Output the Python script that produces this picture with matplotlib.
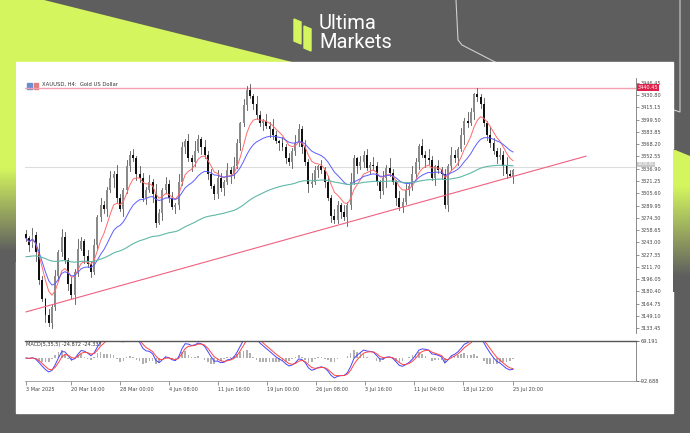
import matplotlib
matplotlib.use("Agg")
import matplotlib.pyplot as plt
import numpy as np
import pandas as pd
from matplotlib.patches import Polygon, Rectangle
from matplotlib.colors import to_rgb

closes = [3248,3240,3252,3230,3195,3170,3150,3140,3160,3200,3230,3250,3220,3190,3175,3205,3235,3245,3225,3215,3205,
          3240,3275,3290,3285,3310,3325,3330,3300,3285,3310,3340,3355,3350,3330,3325,3300,3310,3320,3305,3268,3280,
          3310,3318,3300,3288,3290,3320,3365,3372,3350,3345,3360,3375,3365,3355,3330,3315,3305,3325,3312,3320,3335,
          3330,3340,3370,3395,3418,3438,3430,3420,3405,3395,3398,3392,3388,3380,3372,3370,3365,3350,3345,3360,3370,
          3388,3365,3345,3318,3320,3335,3340,3335,3320,3300,3276,3272,3290,3282,3275,3290,3320,3350,3340,3345,3355,
          3338,3342,3340,3320,3308,3325,3338,3332,3320,3300,3288,3295,3310,3315,3330,3345,3366,3355,3350,3348,3325,
          3340,3335,3330,3290,3340,3355,3350,3362,3380,3398,3395,3410,3432,3428,3420,3395,3380,3370,3360,3352,3355,
          3340,3330,3328,3335]
wick_up = [6, 3, 9, 4, 12, 5, 2, 8, 4, 7, 3, 10]
wick_dn = [4, 8, 3, 11, 5, 2, 9, 4, 6, 3, 7, 5]
price_ticks = [3446.45,3430.80,3415.15,3399.50,3383.85,3368.20,3352.55,3336.90,3321.25,3305.60,3289.95,
               3274.30,3258.65,3243.00,3227.35,3211.70,3196.05,3180.40,3164.75,3149.10,3133.45]
resistance = 3440.45
current = 3338.86
trend_start = 3154
trend_end = 3353
ma_slow_start = 3224
date_labels = ["3 Mar 2025","20 Mar 16:00","28 Mar 00:00","4 Jun 08:00","11 Jun 16:00","19 Jun 00:00",
               "26 Jun 08:00","3 Jul 16:00","11 Jul 04:00","18 Jul 12:00","25 Jul 20:00"]
date_px = [26,71,120,169,218,267,316,365,414,463,513]

W, H = 690, 433
fig = plt.figure(figsize=(6.9, 4.33), dpi=100, facecolor="#5e5e5e")
gray = np.array(to_rgb("#5e5e5e")); limec = np.array(to_rgb("#d4f55e"))
lime = "#d4f55e"

def fig_rect(x, y, w, h, color, z=0.5):
    # pixel coords from top-left
    fig.add_artist(Rectangle((x / W, 1 - (y + h) / H), w / W, h / H, transform=fig.transFigure,
                             color=color, lw=0, zorder=z))

fig_rect(0, 60, 16, 110, lime)
for y in range(168, 262, 2):
    t = min(max((y - 167) / 83, 0), 1)
    fig_rect(0, y, 16, 2.4, tuple(limec * (1 - t) + gray * t))
for y in range(150, 292, 2):
    t = min(max((y - 185) / 90, 0), 1)
    fig_rect(673, y, 17, 2.4, tuple(limec * (1 - t) + gray * t))
fig.add_artist(Polygon([(673 / W, 1 - 149 / H), (1, 1 - 149 / H), (1, 1 - 156 / H)], transform=fig.transFigure,
                       color="#5e5e5e", lw=0, zorder=0.6))

bg = fig.add_axes([0, 0, 1, 1])
bg.set_xlim(0, W); bg.set_ylim(H, 0); bg.axis("off")
bg.fill([0, 44, 300, 0], [0, 0, 64, 64], color=lime, lw=0, zorder=1)
bg.plot([456, 458, 462, 530], [0, 40, 45, 80], color="#cfcfcf", lw=0.8, zorder=2)
bg.plot([680, 680, 674], [0, 112, 110], color="#cfcfcf", lw=0.8, zorder=2)
bg.add_patch(Rectangle((16, 62), 657, 351, color="white", zorder=3))
bg.add_patch(Polygon([(294, 19), (301, 22), (301, 44), (294, 41)], color=lime, zorder=4))
bg.add_patch(Polygon([(304, 26), (311, 29), (311, 51), (304, 48)], color=lime, zorder=4))
bg.text(319, 14, "Ultima", color="white", fontsize=14.5, va="top", family="Roboto")
bg.text(319, 33, "Markets", color="white", fontsize=14.5, va="top", family="Roboto")

N = len(closes)
step = (513 - 26) / (N - 1)
x0px, x1px = 25, 636
ymax = 3446.45 + 5 / 0.783
ymin = 3133.45 - 5 / 0.783
ax = fig.add_axes([x0px / W, (H - 333) / H, (x1px - x0px) / W, (333 - 78) / H], zorder=5)
ax.patch.set_alpha(0)
ax.set_xlim((x0px - 26) / step, (x1px - 26) / step)
ax.set_ylim(ymin, ymax)
s = pd.Series(closes, dtype=float)
opens = [closes[0] + 5] + closes[:-1]
for i in range(N):
    o, c = opens[i], closes[i]
    hi = max(o, c) + wick_up[i % len(wick_up)]
    lo = min(o, c) - wick_dn[i % len(wick_dn)]
    col = "#111111" if c < o else "#8a8a8a"
    ax.plot([i, i], [lo, hi], color="#555555", lw=0.6, zorder=3)
    ax.add_patch(Rectangle((i - 0.3, min(o, c)), 0.6, max(abs(c - o), 0.5), color=col, lw=0, zorder=3))
ax.plot(s.ewm(span=8).mean(), color="#ff6b6b", lw=0.7, zorder=4)
ax.plot(s.ewm(span=20).mean(), color="#5d5dff", lw=0.7, zorder=4)
slow = pd.concat([pd.Series([ma_slow_start]), s]).ewm(span=90, adjust=False).mean().iloc[1:].reset_index(drop=True)
ax.plot(slow, color="#5fb8a8", lw=0.8, zorder=4)
ax.axhline(resistance, color="#f4a0b0", lw=1, zorder=2)
ax.axhline(current, color="#dddddd", lw=0.8, zorder=1)
xe = (586 - 26) / step
ax.plot([0, xe], [trend_start, trend_end], color="#f06080", lw=0.8, zorder=4)
ax.yaxis.tick_right()
ax.set_yticks(price_ticks)
ax.set_yticklabels([f"{v:.2f}" for v in price_ticks], fontsize=3.6, color="#444")
ax.tick_params(axis="y", length=2, width=0.4, pad=1, colors="#444")
ax.set_xticks([])
for sp in ["left", "top", "bottom"]:
    ax.spines[sp].set_visible(False)
ax.spines["right"].set_color("#777"); ax.spines["right"].set_linewidth(0.6)
ax.text(1.003, resistance, "3440.45", transform=ax.get_yaxis_transform(), fontsize=3.6, color="white",
        va="center", ha="left", bbox=dict(boxstyle="square,pad=0.15", fc="#e0204a", ec="none"), zorder=10)
ax.text(1.003, current + 1.2, "3338.86", transform=ax.get_yaxis_transform(), fontsize=3.0, color="white",
        va="bottom", ha="left", bbox=dict(boxstyle="square,pad=0.1", fc="#c8c8c8", ec="none"), zorder=10)
ax.text(0.028, 0.985, "XAUUSD, H4:  Gold US Dollar", transform=ax.transAxes, fontsize=3.8, color="#333", va="top")
ax.add_patch(Rectangle((0.003, 0.955), 0.008, 0.025, transform=ax.transAxes, color="#6a8fd0"))
ax.add_patch(Rectangle((0.014, 0.955), 0.008, 0.025, transform=ax.transAxes, color="#e08080"))

m = fig.add_axes([x0px / W, (H - 381) / H, (x1px - x0px) / W, (381 - 341) / H], zorder=5)
m.patch.set_alpha(0)
m.set_xlim(ax.get_xlim())
macd = s.ewm(span=5).mean() - s.ewm(span=16).mean()
sig = macd.ewm(span=3).mean()
hist = macd - sig
m.bar(range(N), hist * 3.5, width=0.5, color="#b0b0b0")
m.plot(macd * 2.5, color="#4444ff", lw=0.7)
m.plot(sig * 2.5, color="#ff4444", lw=0.7)
m.set_ylim(-92.688, 69.191)
m.yaxis.tick_right()
m.set_yticks([69.191, -92.688]); m.set_yticklabels(["69.191", "-92.688"], fontsize=3.6, color="#444")
m.tick_params(axis="y", length=2, width=0.4, pad=1)
m.set_xticks([(p - 26) / step for p in date_px])
m.set_xticklabels(date_labels, fontsize=3.6, color="#444", ha="left")
m.tick_params(axis="x", length=3, width=0.4, pad=1, colors="#444")
m.spines["left"].set_visible(False)
m.spines["top"].set_color("#555"); m.spines["top"].set_linewidth(1)
m.spines["bottom"].set_color("#999"); m.spines["right"].set_color("#777")
m.spines["right"].set_linewidth(0.6); m.spines["bottom"].set_linewidth(0.6)
m.text(0.002, 0.97, "MACD(5,35,5) -24.872 -24.337", transform=m.transAxes, fontsize=3.6, color="#333", va="top")
fig.savefig("out.png", dpi=100, facecolor="#5e5e5e")
